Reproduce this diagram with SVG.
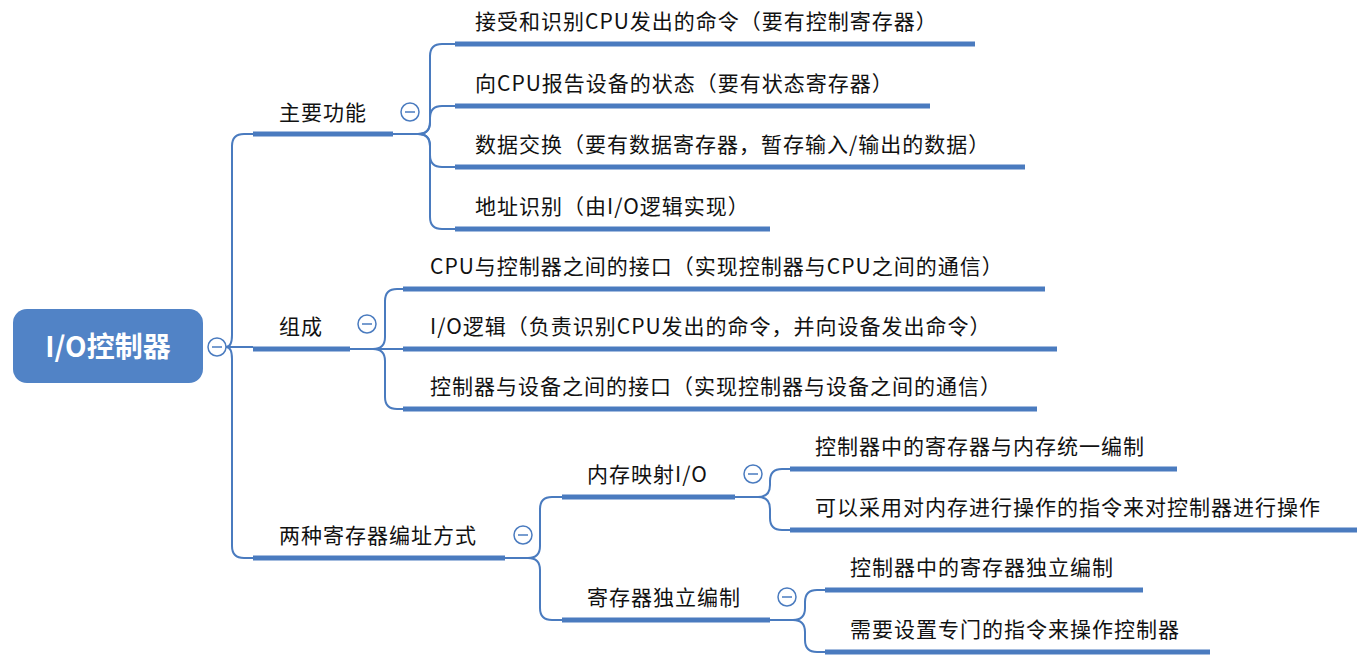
<svg xmlns="http://www.w3.org/2000/svg" width="1363" height="659" viewBox="0 0 1363 659">
<style>
.c{fill:none;stroke:#4a7bbf;stroke-width:2}
.u{stroke:#4a7bbf;stroke-width:5}
.t{font-family:"Noto Sans CJK SC","Liberation Sans",sans-serif;font-size:21px;letter-spacing:1px;fill:#111}
.m circle{fill:#fff;stroke:#4a7bbf;stroke-width:1.5}
.m line{stroke:#4a7bbf;stroke-width:1.5}
</style>
<rect width="1363" height="659" fill="#fff"/>
<g id="connectors">
<path class="c" d="M226 347 Q232 347 232 335 V146 Q232 134 244 134 H253"/>
<path class="c" d="M226 347 H253"/>
<path class="c" d="M226 347 Q232 347 232 359 V546 Q232 558 244 558 H253"/>
<path class="c" d="M393 134 H418 Q430 134 430 122 V56 Q430 44 442 44 H455"/>
<path class="c" d="M393 134 H418 Q430 134 430 122 V118 Q430 106 442 106 H455"/>
<path class="c" d="M393 134 H418 Q430 134 430 146 V155 Q430 167 442 167 H455"/>
<path class="c" d="M393 134 H418 Q430 134 430 146 V217 Q430 229 442 229 H455"/>
<path class="c" d="M350 349 H373 Q385 349 385 337 V301 Q385 289 397 289 H403"/>
<path class="c" d="M350 349 H403"/>
<path class="c" d="M350 349 H373 Q385 349 385 361 V397 Q385 409 397 409 H403"/>
<path class="c" d="M505 558 H528 Q540 558 540 546 V509 Q540 497 552 497 H562"/>
<path class="c" d="M505 558 H528 Q540 558 540 570 V608 Q540 620 552 620 H562"/>
<path class="c" d="M735 497 H758 Q770 497 770 485 V481 Q770 469 782 469 H790"/>
<path class="c" d="M735 497 H758 Q770 497 770 509 V518 Q770 530 782 530 H790"/>
<path class="c" d="M770 620 H793 Q805 620 805 608 V602 Q805 590 817 590 H825"/>
<path class="c" d="M770 620 H793 Q805 620 805 632 V640 Q805 652 817 652 H825"/>
</g>
<g id="root">
<rect x="13" y="309" width="190" height="74" rx="14" fill="#5183c6"/>
<text x="108" y="357" text-anchor="middle" font-family="Noto Sans CJK SC,Liberation Sans,sans-serif" font-size="28" font-weight="bold" fill="#fff">I/O控制器</text>
<g class="m"><circle cx="217" cy="347" r="9"/><line x1="212" y1="347" x2="222" y2="347"/></g>
</g>
<g id="n-main"><line class="u" x1="253" y1="134" x2="393" y2="134"/><text class="t" x="279" y="120">主要功能</text>
<g class="m"><circle cx="410" cy="112" r="9"/><line x1="405" y1="112" x2="415" y2="112"/></g></g>
<g id="n-main1"><line class="u" x1="455" y1="44" x2="975" y2="44"/><text class="t" x="475" y="29">接受和识别CPU发出的命令（要有控制寄存器）</text></g>
<g id="n-main2"><line class="u" x1="455" y1="106" x2="930" y2="106"/><text class="t" x="475" y="91">向CPU报告设备的状态（要有状态寄存器）</text></g>
<g id="n-main3"><line class="u" x1="455" y1="167" x2="1025" y2="167"/><text class="t" x="475" y="152">数据交换（要有数据寄存器，暂存输入/输出的数据）</text></g>
<g id="n-main4"><line class="u" x1="455" y1="229" x2="770" y2="229"/><text class="t" x="475" y="214">地址识别（由I/O逻辑实现）</text></g>
<g id="n-comp"><line class="u" x1="253" y1="349" x2="350" y2="349"/><text class="t" x="279" y="334">组成</text>
<g class="m"><circle cx="367" cy="324" r="9"/><line x1="362" y1="324" x2="372" y2="324"/></g></g>
<g id="n-comp1"><line class="u" x1="403" y1="289" x2="1045" y2="289"/><text class="t" x="430" y="274">CPU与控制器之间的接口（实现控制器与CPU之间的通信）</text></g>
<g id="n-comp2"><line class="u" x1="403" y1="349" x2="1057" y2="349"/><text class="t" x="430" y="334">I/O逻辑（负责识别CPU发出的命令，并向设备发出命令）</text></g>
<g id="n-comp3"><line class="u" x1="403" y1="409" x2="1037" y2="409"/><text class="t" x="430" y="394">控制器与设备之间的接口（实现控制器与设备之间的通信）</text></g>
<g id="n-addr"><line class="u" x1="253" y1="558" x2="505" y2="558"/><text class="t" x="279" y="543">两种寄存器编址方式</text>
<g class="m"><circle cx="523" cy="535" r="9"/><line x1="518" y1="535" x2="528" y2="535"/></g></g>
<g id="n-mmio"><line class="u" x1="562" y1="497" x2="735" y2="497"/><text class="t" x="587" y="482">内存映射I/O</text>
<g class="m"><circle cx="753" cy="474" r="9"/><line x1="748" y1="474" x2="758" y2="474"/></g></g>
<g id="n-mmio1"><line class="u" x1="790" y1="469" x2="1177" y2="469"/><text class="t" x="815" y="454">控制器中的寄存器与内存统一编制</text></g>
<g id="n-mmio2"><line class="u" x1="790" y1="530" x2="1357" y2="530"/><text class="t" x="815" y="515">可以采用对内存进行操作的指令来对控制器进行操作</text></g>
<g id="n-indep"><line class="u" x1="562" y1="620" x2="770" y2="620"/><text class="t" x="587" y="605">寄存器独立编制</text>
<g class="m"><circle cx="787" cy="597" r="9"/><line x1="782" y1="597" x2="792" y2="597"/></g></g>
<g id="n-indep1"><line class="u" x1="825" y1="590" x2="1143" y2="590"/><text class="t" x="850" y="575">控制器中的寄存器独立编制</text></g>
<g id="n-indep2"><line class="u" x1="825" y1="652" x2="1210" y2="652"/><text class="t" x="850" y="637">需要设置专门的指令来操作控制器</text></g>
</svg>
